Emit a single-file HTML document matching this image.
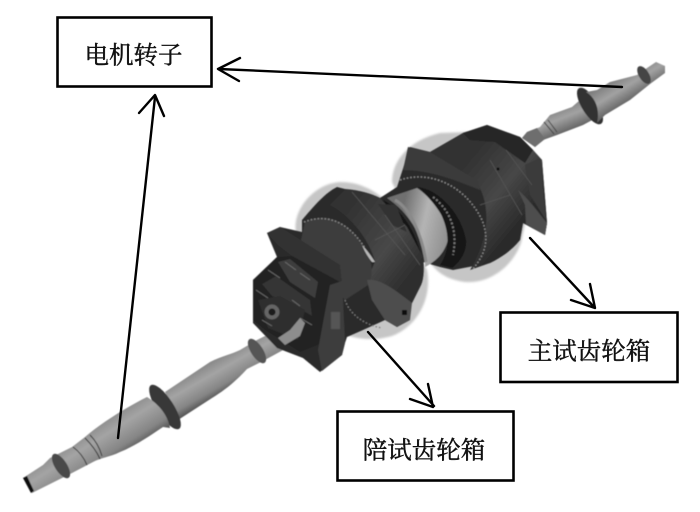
<!DOCTYPE html>
<html><head><meta charset="utf-8"><style>
html,body{margin:0;padding:0;background:#fff}
svg{display:block}
text{font-family:"Liberation Serif","Noto Serif CJK SC",serif;font-size:24.500px;fill:#111;stroke:#111;stroke-width:.45px;text-anchor:middle;dominant-baseline:central}
</style></head><body>
<svg width="700" height="512" viewBox="0 0 700 512" xmlns="http://www.w3.org/2000/svg">
<defs>
<linearGradient id="s1" gradientUnits="userSpaceOnUse" x1="118" y1="402" x2="146" y2="446"><stop offset="0" stop-color="#7e7e7e"/><stop offset=".4" stop-color="#a4a4a4"/><stop offset=".75" stop-color="#858585"/><stop offset="1" stop-color="#474747"/></linearGradient>
<linearGradient id="s1b" gradientUnits="userSpaceOnUse" x1="205" y1="360" x2="225" y2="395"><stop offset="0" stop-color="#7e7e7e"/><stop offset=".4" stop-color="#a4a4a4"/><stop offset=".75" stop-color="#858585"/><stop offset="1" stop-color="#474747"/></linearGradient>
<linearGradient id="s2" gradientUnits="userSpaceOnUse" x1="605" y1="84" x2="622" y2="112"><stop offset="0" stop-color="#7e7e7e"/><stop offset=".4" stop-color="#a2a2a2"/><stop offset="1" stop-color="#4f4f4f"/></linearGradient>
<linearGradient id="s2b" gradientUnits="userSpaceOnUse" x1="560" y1="105" x2="572" y2="135"><stop offset="0" stop-color="#7e7e7e"/><stop offset=".4" stop-color="#a2a2a2"/><stop offset="1" stop-color="#4f4f4f"/></linearGradient>
<linearGradient id="c" gradientUnits="userSpaceOnUse" x1="400" y1="220" x2="452" y2="232"><stop offset="0" stop-color="#707070"/><stop offset=".45" stop-color="#b4b4b4"/><stop offset="1" stop-color="#8c8c8c"/></linearGradient>
<linearGradient id="d" gradientUnits="userSpaceOnUse" x1="470" y1="160" x2="530" y2="210"><stop offset="0" stop-color="#333"/><stop offset=".55" stop-color="#474747"/><stop offset="1" stop-color="#2b2b2b"/></linearGradient>
<linearGradient id="e" gradientUnits="userSpaceOnUse" x1="345" y1="215" x2="415" y2="270"><stop offset="0" stop-color="#333"/><stop offset=".6" stop-color="#484848"/><stop offset="1" stop-color="#2e2e2e"/></linearGradient>
<filter id="b" x="-5%" y="-5%" width="110%" height="110%"><feGaussianBlur stdDeviation="0.55"/></filter>
<filter id="h" x="-5%" y="-5%" width="110%" height="110%"><feGaussianBlur stdDeviation="1"/></filter>
</defs>
<!-- halos -->
<g fill="#c6c6c6" filter="url(#h)">
<path d="M296 232 C292 212 312 184 340 182 C362 182 380 192 400 215 L427 270 C432 295 420 325 392 336 C375 341 355 340 340 332 Z"/>
<path d="M392 182 C392 160 410 140 440 133 L468 132 L530 200 L521 243 C512 268 488 284 465 282 C450 280 440 275 432 265 Z"/>
</g>
<g filter="url(#b)">
<!-- left shaft -->
<path d="M165 392 L210 362 C222 356 232 354 240 350 L257 340 L277 330 L308 313 L316 330 L285 349 L263 361 L247 369 C235 382 225 390 212 398 L178 420Z" fill="url(#s1b)"/>
<ellipse cx="165" cy="407" rx="26" ry="8.500" transform="rotate(57 165 407)" fill="#383838"/>
<path d="M23 478 L43 465 L50 458 L62 452 L72 447 L85 437 C100 424 125 408 147 397 C160 405 168 416 170 428 L163 427 C148 437 135 446 120 452 C110 457 100 458 93 462 L72 473 L32 493 Z" fill="url(#s1)"/>
<ellipse cx="61" cy="466" rx="14" ry="6" transform="rotate(57 61 466)" fill="#4a4a4a"/>
<ellipse cx="257" cy="351" rx="14" ry="6" transform="rotate(57 257 351)" fill="#555"/>
<path d="M23 478 L27 476 L34 491 L31 493Z" fill="#111"/>
<path d="M73 447 C80 452 84 458 87 465M85 438 C92 445 97 452 100 459M90 435 C96 441 100 449 102 456" stroke="#333" fill="none"/>
<!-- right shaft -->
<path d="M522 138 L527 132 L540 127 L550 115 L572 107 L580 100 L596 118 L583 125 L557 135 L543 140 L535 147Z" fill="url(#s2b)"/>
<ellipse cx="590" cy="106" rx="21" ry="8" transform="rotate(58 590 106)" fill="#333"/>
<path d="M597 90 L610 82 L637 75 L647 68 L656 62 L665 66 L665 73 L650 84 L630 100 L605 115 L597 123 C600 110 596 98 586 92Z" fill="url(#s2)"/>
<ellipse cx="644" cy="75" rx="10" ry="5" transform="rotate(58 644 75)" fill="#444"/>
<path d="M522 138 L527 132 L537 128 L545 139 L535 147Z" fill="#6e6e6e"/>
<path d="M544 122 L554 134M548 120 L557 132" stroke="#444" fill="none"/>
<!-- base silhouette -->
<path d="M253 280 L277 257 L267 233 L280 227 L302 232 L302 220 C315 205 325 193 337 187 L345 189 C360 190 372 194 380 198 L397 187 L410 147 L430 152 L463 133 L487 125 L520 137 L533 150 L542 160 L547 223 L545 235 L523 223 L520 240 C510 252 500 258 490 263 L453 270 L440 267 L423 262 C424 275 423 282 420 287 L410 307 L410 320 L397 327 L385 320 L363 330 L347 337 L345 343 L342 355 L320 372 L303 358 L277 348 L253 323Z" fill="#2c2c2c"/>
<!-- middle cylinder -->
<path d="M387 198 L417 188 C430 196 446 218 449 233 C448 246 442 258 425 267 C425 240 412 215 387 198Z" fill="url(#c)"/>
<path d="M383 200 C405 210 420 240 423 265 L415 262 C412 240 398 220 380 207Z" fill="#151515"/>
<path d="M395 200 C410 208 422 235 426 262" stroke="#8a8a8a" fill="none" stroke-width="3"/>
<!-- right drum -->
<path d="M475 180 C490 200 492 235 470 270 L490 263 C500 258 510 252 520 240 L523 223 L545 235 L547 223 L542 160 L533 150 L520 137 L487 125 L463 133 L430 152Z" fill="url(#d)"/>
<path d="M418 187 C440 190 462 215 466 240 C467 252 460 262 452 268 L440 265 C450 250 450 232 440 212 C432 200 425 193 418 187Z" fill="#121212"/>
<path d="M433 197 C450 210 458 230 453 255" stroke="#777" stroke-width="2" fill="none" stroke-dasharray="2 2"/>
<path d="M408 147 L430 152 L478 181 L480 190 C455 180 430 170 403 170Z" fill="#3b3b3b"/>
<path d="M400 180 C430 170 465 185 482 220 C490 240 485 255 472 270" stroke="#8c8c8c" stroke-width="1.400" fill="none" stroke-dasharray="1.500 2"/>
<path d="M463 133 L487 125 L520 137 L533 150 L525 163 L495 142 L470 140Z" fill="#262626"/>
<path d="M518 190 C530 200 540 215 547 223 L545 235 L526 224 L525 205Z" fill="#4e4e4e"/>
<path d="M525 165 L540 158 L546 220 L530 195Z" fill="#3a3a3a"/>
<path d="M490 160 L522 215M506 150 L532 185M480 205 L510 195" stroke="#555" fill="none" stroke-width=".8"/>
<circle cx="498" cy="169" r="1.500" fill="#111"/>
<!-- left drum -->
<path d="M345 190 C360 190 372 194 380 198 L407 227 L423 257 C425 272 423 282 420 287 L410 307 L390 293 L367 280 L375 262 C370 240 350 215 330 205Z" fill="url(#e)"/>
<path d="M378 204 L396 205 L407 232 L392 225Z" fill="#333"/>
<path d="M305 222 C325 212 345 220 360 240 C370 255 376 270 368 285 L345 300 L300 245Z" fill="#3c3c3c"/>
<path d="M304 222 C330 212 350 225 365 248" stroke="#8a8a8a" stroke-width="1.300" fill="none" stroke-dasharray="1.500 2"/>
<path d="M362 245 C366 249 370 254 375 262 L372 262 C367 256 364 250 362 245Z" fill="#b8b8b8"/>
<path d="M367 280 C380 278 395 290 412 303 L410 320 L397 327 L385 320 L372 300Z" fill="#4d4d4d"/>
<path d="M345 300 C350 315 365 325 382 328" stroke="#7c7c7c" stroke-width="1.200" fill="none" stroke-dasharray="1.500 2"/>
<path d="M385 215 L420 265M352 192 L405 255M375 240 L405 225" stroke="#575757" fill="none" stroke-width=".8"/>
<rect x="402" y="310" width="5" height="5" fill="#111"/>
<!-- front housing -->
<path d="M267 233 L280 227 L340 265 L342 283 L330 285 L278 245Z" fill="#333"/>
<path d="M253 280 L277 257 L292 256 L340 282 L330 340 L300 352 L265 330 L253 320Z" fill="#242424"/>
<path d="M330 285 L342 281 L345 343 L342 355 L322 371 L318 350Z" fill="#3e3e3e"/>
<path d="M278 262 L290 259 L318 282 L315 298 L290 282Z" fill="#3e3e3e"/>
<path d="M262 284 L276 276 L310 300 L312 316 L295 306 L272 296Z" fill="#343434"/>
<path d="M258 300 L280 296 L305 310 L298 340 L268 328Z" fill="#2e2e2e"/>
<circle cx="272" cy="312" r="7.500" fill="#656565"/><circle cx="272" cy="312" r="3.500" fill="#1a1a1a"/>
<rect x="331" y="312" width="9" height="17" fill="#555"/>
<path d="M268 270 L280 278M285 262 L296 270M300 273 L310 280M256 290 L268 298M292 300 L300 306M262 320 L272 326M300 318 L312 325" stroke="#6a6a6a" fill="none"/>
<path d="M290 330 L300 318 L305 323 L300 336 L285 345 L278 338Z" fill="#8d8d8d"/>
</g>
<!-- connectors -->
<g fill="none" stroke="#000" stroke-width="2.400" stroke-linecap="round" stroke-linejoin="round">
<path d="M118 438 L155 97"/><path d="M139 113 L155 95 L164 116"/>
<path d="M622 87 L219 69"/><path d="M240 58 L218 69 L239 81"/>
<path d="M530 238 L594 307"/><path d="M571 300 L595 308 L590 284"/>
<path d="M368 332 L434 406"/><path d="M410 399 L433 407 L428 384"/>
</g>
<!-- boxes -->
<g fill="#fff" stroke="#000" stroke-width="2.600">
<rect x="57.500" y="17.500" width="154" height="69"/>
<rect x="500.500" y="312.500" width="177" height="69.500"/>
<rect x="337.500" y="411.500" width="176" height="69"/>
</g>
<text x="133.500" y="56">电机转子</text>
<text x="589" y="352">主试齿轮箱</text>
<text x="424" y="451">陪试齿轮箱</text>
</svg>
</body></html>
